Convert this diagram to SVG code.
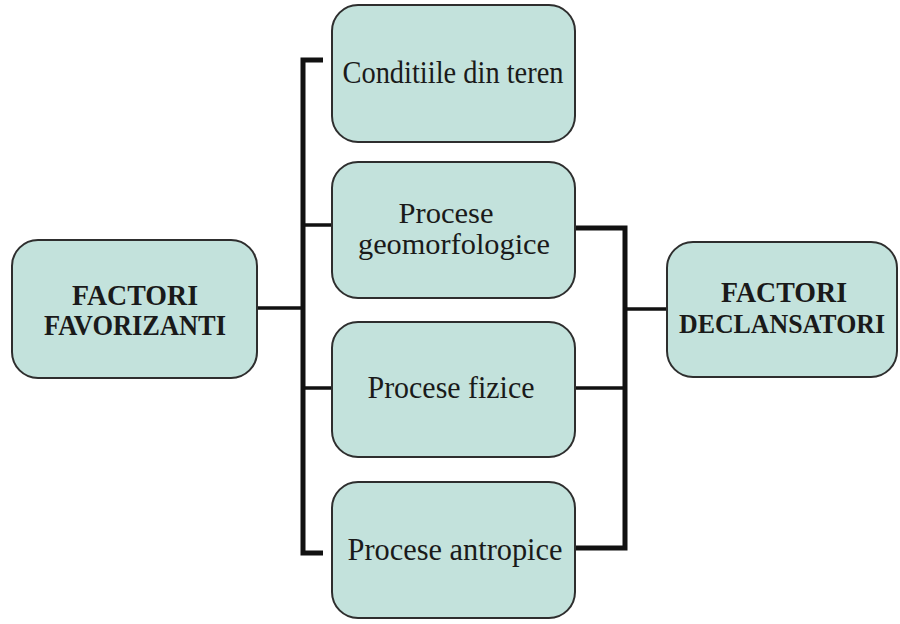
<svg xmlns="http://www.w3.org/2000/svg" width="900" height="624" viewBox="0 0 900 624">
<style>
.box{fill:#c3e2dc;stroke:#2e2e2e;stroke-width:2}
.t{font-family:"Liberation Serif","Times New Roman",serif;font-size:31px;fill:#1a1a1a;text-anchor:middle}
.t2{font-size:29px}
.b{font-family:"Liberation Serif","Times New Roman",serif;font-size:29px;font-weight:bold;fill:#1a1a1a;text-anchor:middle}
.b2{font-size:27px}
.c{fill:none;stroke:#111;stroke-width:5;stroke-linejoin:miter;stroke-linecap:butt}
.cs{fill:none;stroke:#111;stroke-width:3.5}
</style>
<rect width="900" height="624" fill="#ffffff"/>
<g id="connectors">
<path class="c" d="M323 60 H303 V553 H323"/>
<path class="cs" d="M257 308 H303"/>
<path class="cs" d="M303 225 H332"/>
<path class="cs" d="M303 388 H332"/>
<path class="c" d="M575 228 H625 V548 H575"/>
<path class="cs" d="M575 388 H625"/>
<path class="cs" d="M625 309 H667"/>
</g>
<g id="factori-favorizanti">
<rect class="box" x="12" y="240" width="245" height="138" rx="26"/>
<text class="b" x="135" y="305" textLength="126" lengthAdjust="spacingAndGlyphs">FACTORI</text>
<text class="b" x="135" y="335" textLength="182" lengthAdjust="spacingAndGlyphs">FAVORIZANTI</text>
</g>
<g id="conditiile">
<rect class="box" x="332" y="5" width="243" height="137" rx="26"/>
<text class="t" x="453" y="83" textLength="221" lengthAdjust="spacingAndGlyphs">Conditiile din teren</text>
</g>
<g id="geomorfologice">
<rect class="box" x="332" y="162" width="243" height="136" rx="26"/>
<text class="t t2" x="446" y="223" textLength="95" lengthAdjust="spacingAndGlyphs">Procese</text>
<text class="t t2" x="454" y="254" textLength="192" lengthAdjust="spacingAndGlyphs">geomorfologice</text>
</g>
<g id="fizice">
<rect class="box" x="332" y="322" width="243" height="135" rx="26"/>
<text class="t" x="451" y="398" textLength="167" lengthAdjust="spacingAndGlyphs">Procese fizice</text>
</g>
<g id="antropice">
<rect class="box" x="332" y="482" width="243" height="136" rx="26"/>
<text class="t" x="455" y="560" textLength="215" lengthAdjust="spacingAndGlyphs">Procese antropice</text>
</g>
<g id="factori-declansatori">
<rect class="box" x="667" y="242" width="230" height="135" rx="26"/>
<text class="b" x="784" y="302" textLength="126" lengthAdjust="spacingAndGlyphs">FACTORI</text>
<text class="b b2" x="782" y="333" textLength="206" lengthAdjust="spacingAndGlyphs">DECLANSATORI</text>
</g>
</svg>
